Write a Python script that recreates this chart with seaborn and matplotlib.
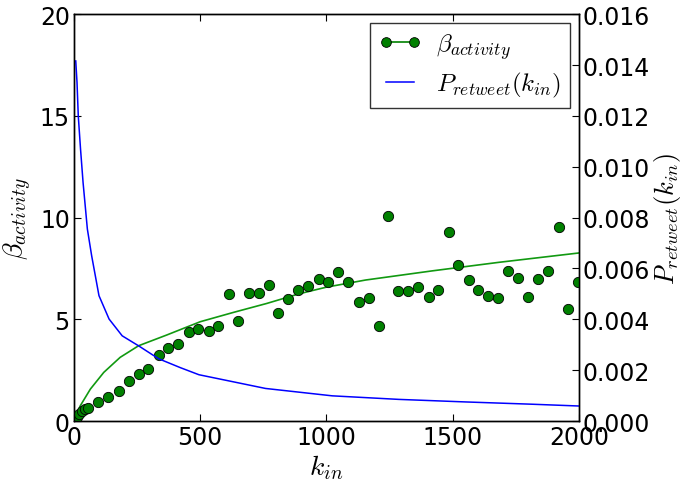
import matplotlib
matplotlib.use("Agg")
import matplotlib.pyplot as plt
from matplotlib.lines import Line2D
import seaborn as sns

# measured beta_activity per in-degree bin
k_in = [3, 10, 20, 30, 42, 56, 96, 136, 178, 217, 256, 294, 337, 373, 413,
        455, 492, 533, 571, 613, 651, 693, 731, 771, 809, 848, 888, 928,
        969, 1007, 1047, 1086, 1129, 1167, 1207, 1245, 1283, 1324, 1362,
        1405, 1443, 1484, 1522, 1563, 1601, 1640, 1680, 1719, 1760, 1798,
        1838, 1878, 1920, 1958, 1998]
beta = [0.05, 0.20, 0.35, 0.48, 0.57, 0.62, 0.92, 1.16, 1.47, 1.98, 2.30,
        2.57, 3.23, 3.60, 3.78, 4.37, 4.51, 4.42, 4.65, 6.23, 4.90, 6.28,
        6.28, 6.70, 5.32, 5.98, 6.44, 6.62, 7.00, 6.83, 7.31, 6.83, 5.85,
        6.06, 4.68, 10.09, 6.40, 6.40, 6.57, 6.11, 6.45, 9.27, 7.68, 6.93,
        6.42, 6.14, 6.06, 7.39, 7.04, 6.11, 6.96, 7.39, 9.53, 5.50, 6.82]

# fitted curve for beta
fit_k = [0, 12, 25, 65, 118, 183, 256, 368, 500, 632, 764, 891, 1000,
         1155, 1419, 1683, 2000]
fit_beta = [0.0, 0.34, 0.75, 1.57, 2.39, 3.13, 3.70, 4.23, 4.88, 5.34,
            5.78, 6.25, 6.58, 6.93, 7.38, 7.80, 8.26]

# retweet probability curve
p_k = [7, 12, 17, 26, 36, 53, 70, 99, 139, 191, 257, 335, 421, 495, 759,
       1023, 1287, 1551, 1815, 2000]
p_retweet = [0.01416, 0.01332, 0.0120, 0.01069, 0.00938, 0.00755, 0.0065,
             0.00493, 0.00401, 0.00335, 0.00295, 0.00245, 0.00210, 0.00182,
             0.00128, 0.00099, 0.00085, 0.00075, 0.00066, 0.00059]

plt.rcParams.update({
    "mathtext.fontset": "cm",
    "xtick.direction": "in",
    "ytick.direction": "in",
    "xtick.top": True,
    "font.size": 17,
})

fig, ax = plt.subplots(figsize=(6.85, 4.89), dpi=100)
fig.subplots_adjust(left=0.108, right=0.845, top=0.969, bottom=0.137)

sns.scatterplot(x=k_in, y=beta, color="green", edgecolor="k", linewidth=0.6,
                s=55, ax=ax, zorder=3)
sns.lineplot(x=fit_k, y=fit_beta, color="#119911", linewidth=1.2,
             estimator=None, ax=ax)

ax2 = ax.twinx()
sns.lineplot(x=p_k, y=p_retweet, color="blue", linewidth=1.1,
             estimator=None, ax=ax2)

ax.set_xlim(0, 2000)
ax.set_ylim(0, 20)
ax.set_xticks([0, 500, 1000, 1500, 2000])
ax.set_yticks([0, 5, 10, 15, 20])
ax2.set_ylim(0, 0.016)
ax2.set_yticks([0.000, 0.002, 0.004, 0.006, 0.008, 0.010, 0.012, 0.014, 0.016])
ax2.set_yticklabels(["%.3f" % t for t in ax2.get_yticks()])

ax.set_xlabel(r"$k_{in}$", fontsize=20, labelpad=2)
ax.set_ylabel(r"$\beta_{activity}$", fontsize=20, labelpad=4)
ax2.set_ylabel(r"$P_{retweet}(k_{in})$", fontsize=19, labelpad=1)

for a in (ax, ax2):
    a.tick_params(labelsize=17, length=5, width=0.8, pad=3)
    for s in a.spines.values():
        s.set_color("k")
        s.set_linewidth(1.0)

handles = [
    Line2D([], [], color="green", marker="o", markersize=7,
           markeredgecolor="k", markeredgewidth=0.6, linewidth=1.2),
    Line2D([], [], color="blue", linewidth=1.1),
]
leg = ax.legend(handles, [r"$\beta_{activity}$", r"$P_{retweet}(k_{in})$"],
                loc="upper right", numpoints=2, fontsize=18, fancybox=False,
                borderaxespad=0.35, handlelength=1.7, handletextpad=0.6,
                borderpad=0.35, labelspacing=0.35)
leg.get_frame().set_edgecolor("k")
leg.get_frame().set_linewidth(1.0)

fig.savefig("out.png", dpi=100)
